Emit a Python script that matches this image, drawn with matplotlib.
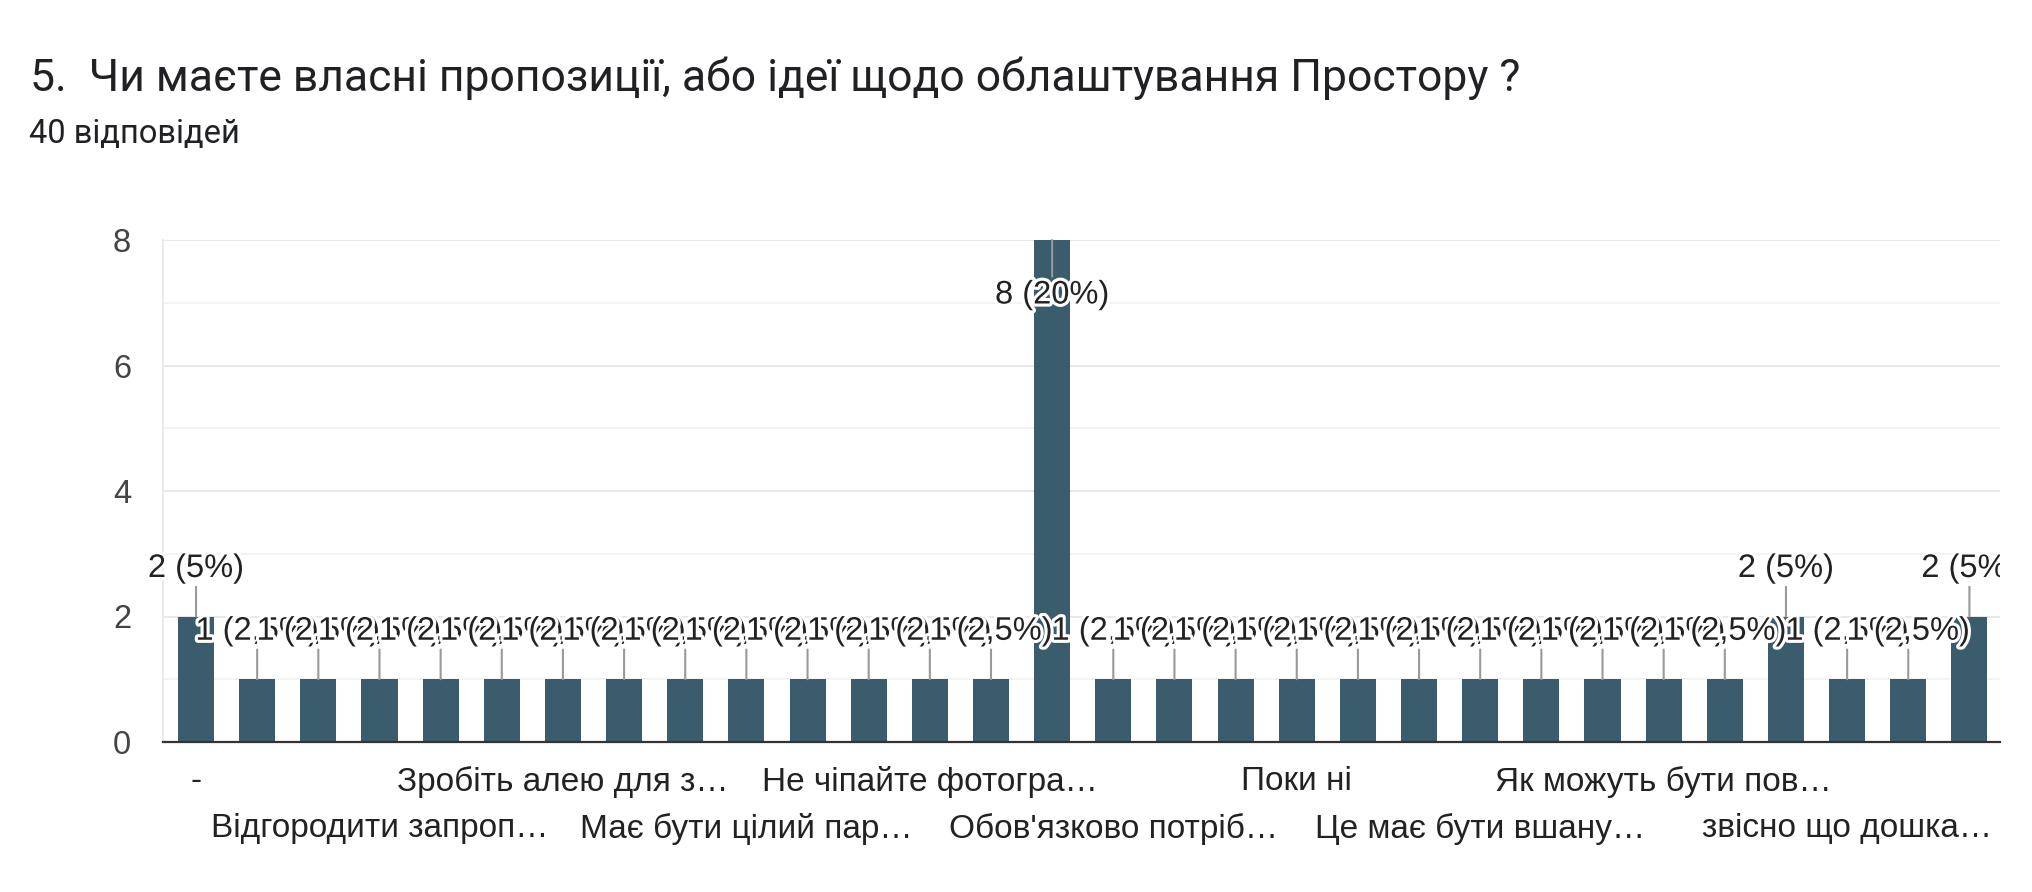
import matplotlib
matplotlib.use("Agg")
import matplotlib.pyplot as plt
from matplotlib import patheffects as pe
from matplotlib.patches import Rectangle

# ---- data ----
title = "5.  Чи маєте власні пропозиції, або ідеї щодо облаштування Простору ?"
subtitle = "40 відповідей"
values = [2, 1, 1, 1, 1, 1, 1, 1, 1, 1, 1, 1, 1, 1, 8,
          1, 1, 1, 1, 1, 1, 1, 1, 1, 1, 1, 2, 1, 1, 2]
tick_labels = ["-", "", "", "Відгородити запроп…", "", "",
               "Зробіть алею для з…", "", "", "Має бути цілий пар…", "", "",
               "Не чіпайте фотогра…", "", "", "Обов'язково потріб…", "", "",
               "Поки ні", "", "", "Це має бути вшану…", "", "",
               "Як можуть бути пов…", "", "", "звісно що дошка…", "", ""]
y_ticks = [0, 2, 4, 6, 8]
y_minor = [1, 3, 5, 7]

W, H = 2033, 892
fig = plt.figure(figsize=(W / 100, H / 100), dpi=100)
fig.patch.set_facecolor("white")

CH = "Liberation Sans"
TF = "Roboto"
bar_color = "#3a5c6d"

ax = fig.add_axes([163 / W, 1 - 742 / H, (2000 - 163) / W, (742 - 240) / H])
x = list(range(len(values)))
ax.bar(x, values, width=0.59, color=bar_color, zorder=2)
ax.set_xlim(-0.54, len(values) - 0.5)
ax.set_ylim(0, 8.0)

ax.set_yticks(y_ticks)
ax.set_yticks(y_minor, minor=True)
ax.grid(which="major", axis="y", color="#e8e8e8", lw=1.4, zorder=0)
ax.grid(which="minor", axis="y", color="#f3f3f3", lw=1.4, zorder=0)
ax.tick_params(axis="y", which="both", length=0, pad=23, labelsize=23.5,
               labelcolor="#444444")
for lab in ax.get_yticklabels():
    lab.set_fontfamily(CH)

ax.set_xticks(x, tick_labels)
ax.tick_params(axis="x", length=0, labelsize=24, labelcolor="#222222")
for i, t in enumerate(ax.xaxis.get_major_ticks()):
    t.set_pad(17 if (i // 3) % 2 == 0 else 51)
for lab in ax.get_xticklabels():
    lab.set_fontfamily(CH)

for s in ["top", "right"]:
    ax.spines[s].set_visible(False)
ax.spines["left"].set_color("#e6e6e6")
ax.spines["left"].set_linewidth(1.2)
ax.spines["bottom"].set_color("#333333")
ax.spines["bottom"].set_linewidth(1.6)
ax.spines["bottom"].set_zorder(3)

clip_rect = Rectangle((0, 0), 2000 / W, 1, transform=fig.transFigure,
                      facecolor="none", edgecolor="none")
fig.add_artist(clip_rect)
clip_rect.set_visible(False)

total = sum(values)
for i, v in enumerate(values):
    pct = v / total * 100
    txt = f"{v} ({pct:g}%)".replace(".", ",")
    inside = v >= ax.get_ylim()[1] - 1
    dy = 55 if inside else -48
    ann = ax.annotate(txt, xy=(i, v), xytext=(0, -dy), textcoords="offset pixels",
                      ha="center", va="center", fontsize=23.5, family=CH,
                      color="#222222", zorder=5 + i * 0.01,
                      annotation_clip=False,
                      arrowprops=dict(arrowstyle="-", color="#999999", lw=1.5,
                                      shrinkA=0, shrinkB=0))
    ann.set_path_effects([pe.withStroke(linewidth=4.5, foreground="white")])
    ann.set_clip_path(clip_rect)
    ann.set_clip_on(True)

fig.text(30 / W, 1 - 91 / H, title, fontsize=32, family=TF, color="#202124",
         va="baseline", ha="left")
fig.text(29 / W, 1 - 143 / H, subtitle, fontsize=23.5, family=TF, color="#202124",
         va="baseline", ha="left")

fig.savefig("out.png", dpi=100, facecolor="white")
